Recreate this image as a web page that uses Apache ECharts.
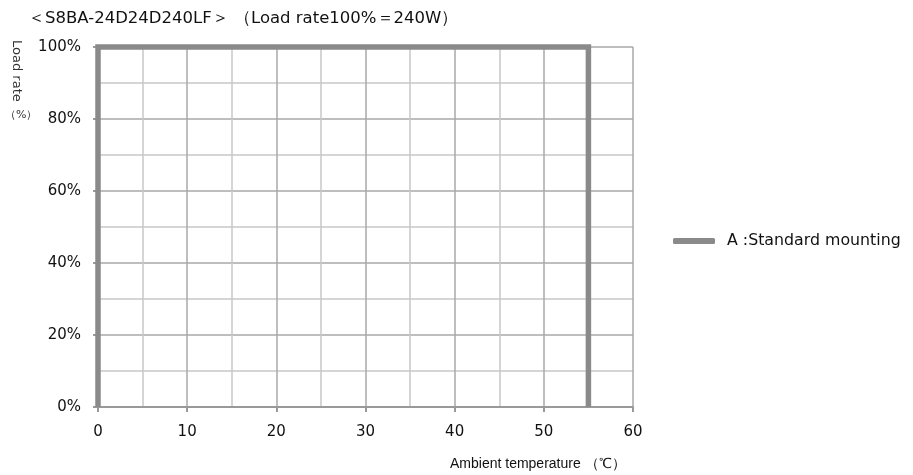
<!DOCTYPE html>
<html><head><meta charset="utf-8">
<script src="https://cdn.jsdelivr.net/npm/echarts@6/dist/echarts.min.js"></script>
<style>html,body{margin:0;padding:0;background:#fff}#c{width:913px;height:475px}</style>
</head><body><div id="c"></div>
<script>
var titleText = '＜S8BA-24D24D240LF＞ （Load rate100%＝240W）';
var seriesName = 'A :Standard mounting';
var tempX = [0, 0, 55, 55];
var loadY = [0, 100, 100, 0];
var xTicks = [0, 10, 20, 30, 40, 50, 60];
var yTicks = [0, 20, 40, 60, 80, 100];

var chart = echarts.init(document.getElementById('c'));
var data = tempX.map(function (x, i) { return [x, loadY[i]]; });
var font = '"DejaVu Sans", sans-serif';
var font2 = 'Arial, "Liberation Sans", sans-serif';
chart.setOption({
  animation: false,
  backgroundColor: '#fff',
  grid: { left: 98, right: 280, top: 47, bottom: 68, containLabel: false },
  xAxis: {
    type: 'value', min: xTicks[0], max: xTicks[xTicks.length - 1], interval: 10,
    axisLine: { show: true, lineStyle: { color: '#999', width: 2 } },
    axisTick: { show: true, length: 5, lineStyle: { color: '#999', width: 2 } },
    axisLabel: { color: '#111', fontSize: 15, fontFamily: font, margin: 18 },
    splitLine: { show: true, lineStyle: { color: '#a8a8a8', width: 1.5 } },
    minorTick: { show: false, splitNumber: 2 },
    minorSplitLine: { show: true, lineStyle: { color: '#c8c8c8', width: 1.5 } }
  },
  yAxis: {
    type: 'value', min: yTicks[0], max: yTicks[yTicks.length - 1], interval: 20,
    axisLine: { show: true, lineStyle: { color: '#999', width: 2 } },
    axisTick: { show: true, length: 5, lineStyle: { color: '#999', width: 2 } },
    axisLabel: { color: '#111', fontSize: 15, fontFamily: font, margin: 17, formatter: '{value}%' },
    splitLine: { show: true, lineStyle: { color: '#a8a8a8', width: 1.5 } },
    minorTick: { show: false, splitNumber: 2 },
    minorSplitLine: { show: true, lineStyle: { color: '#c8c8c8', width: 1.5 } }
  },
  legend: {
    left: 673, top: 233, orient: 'vertical', padding: 0,
    itemWidth: 42, itemHeight: 6, itemGap: 10,
    icon: 'roundRect',
    textStyle: { color: '#111', fontSize: 15.8, fontFamily: font, padding: [0, 0, 0, 7] },
    data: [seriesName]
  },
  series: [{
    name: seriesName, type: 'line', data: data, showSymbol: false, clip: false,
    lineStyle: { color: '#8a8a8a', width: 5.5, cap: 'butt', join: 'miter' },
    itemStyle: { color: '#8a8a8a' }
  }],
  graphic: [
    { type: 'text', left: 28, top: 10, style: { text: titleText, fill: '#111', fontSize: 16.5, fontFamily: font } },
    { type: 'text', x: 16, y: 40, rotation: -Math.PI / 2, style: { text: 'Load rate', fill: '#333', fontSize: 13, fontFamily: font, align: 'left', verticalAlign: 'middle' } },
    { type: 'text', left: 5, top: 110, style: { text: '（%）', fill: '#333', fontSize: 11, fontFamily: font } },
    { type: 'text', left: 450, top: 457, style: { text: 'Ambient temperature （℃）', fill: '#111', fontSize: 14, fontFamily: font2 } }
  ]
});
</script></body></html>
